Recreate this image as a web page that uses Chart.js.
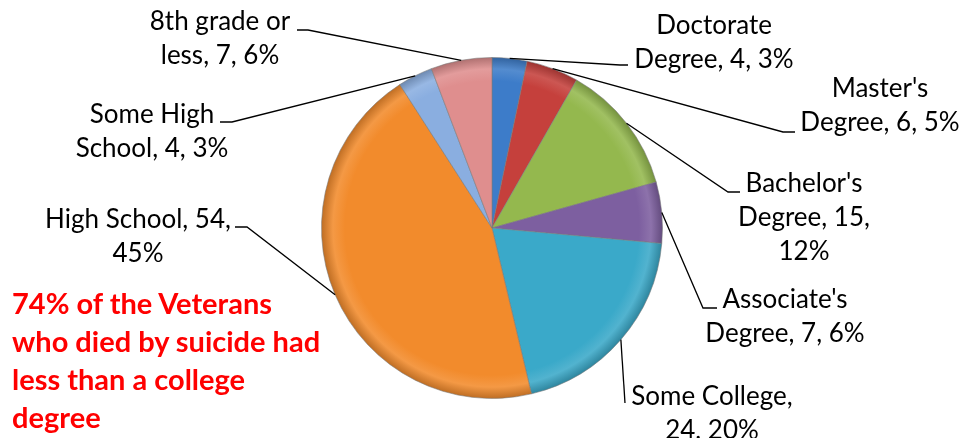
<!DOCTYPE html>
<html>
<head>
<meta charset="utf-8">
<title>Education level</title>
<script src="https://cdn.jsdelivr.net/npm/chart.js@4/dist/chart.umd.min.js"></script>
<style>
  html, body { margin: 0; padding: 0; background: #fff; }
  #wrap { position: relative; width: 979px; height: 438px; overflow: hidden; }
  #note {
    position: absolute; left: 12px; top: 284px;
    font-family: Lato, sans-serif; font-weight: bold; font-size: 29px;
    line-height: 38px; color: #ff0000; white-space: nowrap;
  }
</style>
</head>
<body>
<div id="wrap">
  <canvas id="chart" width="979" height="438"></canvas>
  <div id="note">74% of the Veterans<br>who died by suicide had<br>less than a college<br>degree</div>
</div>
<script>
// ============================
// Données
// ============================

const categories = [
  "Doctorate Degree", "Master's Degree", "Bachelor's Degree", "Associate's Degree",
  "Some College", "High School", "Some High School", "8th grade or less"
];
const counts   = [4, 6, 15, 7, 24, 54, 4, 7];
const percents = [3, 5, 12, 6, 20, 45, 3, 6];

// texte des étiquettes, ligne par ligne
const labelLines = [
  ["Doctorate", "Degree, 4, 3%"],
  ["Master's", "Degree, 6, 5%"],
  ["Bachelor's", "Degree, 15,", "12%"],
  ["Associate's", "Degree, 7, 6%"],
  ["Some College,", "24, 20%"],
  ["High School, 54,", "45%"],
  ["Some High", "School, 4, 3%"],
  ["8th grade or", "less, 7, 6%"]
];

const colors = ["#3d7cc9", "#c5403c", "#94b84e", "#7d5fa0", "#3aa9c9", "#f28b2c", "#8aaee0", "#df8e8e"];

// ============================
// Placement des étiquettes (coude du trait, fin du trait, centre du texte)
// ============================

const labelLayout = [
  { elbow: [620, 65],  end: [628, 65],  x: 714, y: 26 },
  { elbow: [783, 132], end: [795, 132], x: 880, y: 89 },
  { elbow: [728, 192], end: [740, 192], x: 804, y: 184 },
  { elbow: [703, 308], end: [717, 308], x: 785, y: 300 },
  { elbow: [625, 403], end: [625, 403], x: 712, y: 397 },
  { elbow: [247, 227], end: [235, 227], x: 138, y: 220 },
  { elbow: [232, 122], end: [220, 122], x: 152, y: 115 },
  { elbow: [308, 30],  end: [297, 30],  x: 220, y: 22 }
];

function shade(hex, f) {
  const n = parseInt(hex.slice(1), 16);
  let r = (n >> 16) & 255, g = (n >> 8) & 255, b = n & 255;
  if (f < 0) { r *= 1 + f; g *= 1 + f; b *= 1 + f; }
  else { r += (255 - r) * f; g += (255 - g) * f; b += (255 - b) * f; }
  return `rgb(${Math.round(r)},${Math.round(g)},${Math.round(b)})`;
}

// dégradé radial : léger relief sur le bord des parts
function sliceFill(ctx) {
  const base = colors[ctx.dataIndex];
  const chart = ctx.chart;
  const area = chart.chartArea;
  if (!area) return base;
  const cx = (area.left + area.right) / 2;
  const cy = (area.top + area.bottom) / 2;
  const r = Math.min(area.right - area.left, area.bottom - area.top) / 2;
  const g = chart.ctx.createRadialGradient(cx, cy, 0, cx, cy, r);
  g.addColorStop(0, base);
  g.addColorStop(0.86, base);
  g.addColorStop(0.93, shade(base, 0.12));
  g.addColorStop(1, shade(base, -0.22));
  return g;
}

// ============================
// Étiquettes avec traits de rappel
// ============================

const leaderLabels = {
  id: 'leaderLabels',
  afterDatasetsDraw(chart) {
    const ctx = chart.ctx;
    const meta = chart.getDatasetMeta(0);
    ctx.save();
    ctx.strokeStyle = '#000';
    ctx.lineWidth = 1.3;
    ctx.fillStyle = '#000';
    ctx.font = '26px Lato, sans-serif';
    ctx.textAlign = 'center';
    ctx.textBaseline = 'middle';
    meta.data.forEach((arc, i) => {
      const p = arc.getProps(['x', 'y', 'startAngle', 'endAngle', 'outerRadius'], true);
      const a = (p.startAngle + p.endAngle) / 2;
      const sx = p.x + Math.cos(a) * p.outerRadius;
      const sy = p.y + Math.sin(a) * p.outerRadius;
      const l = labelLayout[i];
      ctx.beginPath();
      ctx.moveTo(sx, sy);
      ctx.lineTo(l.elbow[0], l.elbow[1]);
      ctx.lineTo(l.end[0], l.end[1]);
      ctx.stroke();
      labelLines[i].forEach((t, k) => ctx.fillText(t, l.x, l.y + k * 34));
    });
    ctx.restore();
  }
};

// ============================
// Graphique
// ============================

new Chart(document.getElementById('chart'), {
  type: 'pie',
  data: {
    labels: categories,
    datasets: [{
      data: counts,
      backgroundColor: sliceFill,
      borderColor: 'rgba(120,120,120,0.55)',
      borderWidth: 1
    }]
  },
  options: {
    responsive: false,
    animation: false,
    layout: { padding: { left: 200, right: 195, top: 57, bottom: 39 } },
    plugins: {
      legend: { display: false },
      tooltip: { enabled: false }
    }
  },
  plugins: [leaderLabels]
});
</script>
</body>
</html>
